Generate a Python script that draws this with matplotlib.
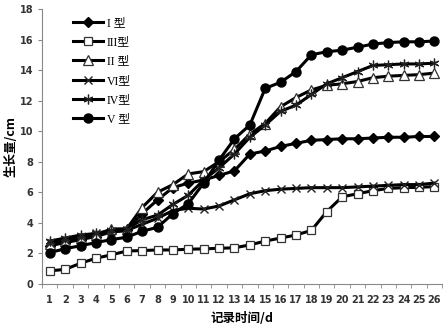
import matplotlib
matplotlib.use('Agg')
import matplotlib.pyplot as plt
import numpy as np

days = np.arange(1, 27)

type1 = [2.5, 2.7, 2.9, 3.1, 3.4, 3.5, 4.6, 5.5, 6.3, 6.6, 6.8, 7.1, 7.4, 8.5,
         8.7, 9.0, 9.2, 9.4, 9.45, 9.5, 9.5, 9.55, 9.6, 9.6, 9.65, 9.65]
type3 = [0.85, 0.95, 1.35, 1.68, 1.9, 2.15, 2.18, 2.22, 2.22, 2.27, 2.29, 2.33, 2.36,
         2.55, 2.8, 3.0, 3.2, 3.5, 4.73, 5.7, 5.9, 6.1, 6.25, 6.3, 6.32, 6.37]
type2 = [2.6, 2.8, 3.0, 3.2, 3.6, 3.6, 5.0, 6.0, 6.5, 7.2, 7.35, 8.0, 8.8, 9.8,
         10.5, 11.6, 12.2, 12.7, 13.0, 13.1, 13.25, 13.5, 13.6, 13.65, 13.7, 13.8]
type6 = [2.7, 2.9, 3.1, 3.3, 3.4, 3.5, 3.9, 4.3, 4.8, 4.95, 4.9, 5.1, 5.5, 5.9,
         6.1, 6.2, 6.25, 6.3, 6.3, 6.3, 6.35, 6.4, 6.45, 6.5, 6.5, 6.6]
type4 = [2.8, 3.0, 3.2, 3.3, 3.5, 3.6, 4.2, 4.5, 5.2, 5.8, 6.8, 7.6, 8.5, 9.6,
         10.4, 11.3, 11.7, 12.4, 13.1, 13.5, 13.9, 14.3, 14.35, 14.4, 14.4, 14.45]
type5 = [2.05, 2.3, 2.5, 2.7, 2.9, 3.05, 3.45, 3.7, 4.6, 5.25, 6.6, 8.1, 9.5, 10.4,
         12.8, 13.2, 13.9, 15.0, 15.2, 15.3, 15.5, 15.7, 15.8, 15.85, 15.85, 15.9]

labels = ['I 型', 'III型', 'II 型', 'VI型', 'IV型', 'V 型']
series = [type1, type3, type2, type6, type4, type5]
styles = [
    dict(marker='D', ms=5, mfc='black', mec='black'),
    dict(marker='s', ms=6, mfc='white', mec='#333333', mew=0.9),
    dict(marker='^', ms=6.5, mfc='white', mec='#333333', mew=0.9),
    dict(marker='x', ms=6, mfc='black', mec='#222222', mew=1.0),
    dict(marker=(6, 2, 0), ms=7, mfc='black', mec='#222222', mew=0.9),
    dict(marker='o', ms=6.5, mfc='black', mec='black'),
]

fig = plt.figure(figsize=(4.48, 3.32), dpi=100)
ax = fig.add_axes([0.094, 0.145, 0.893, 0.828])

for y, lab, st in zip(series, labels, styles):
    ax.plot(days, y, color='black', lw=2.2, label=lab, **st)

ax.set_xlim(0.5, 26.5)
ax.set_ylim(0, 18)
ax.set_yticks(np.arange(0, 19, 2))
ax.set_xticks(days)
ax.set_xticks(np.arange(0.5, 27, 1), minor=True)
ax.tick_params(axis='x', which='major', length=0, pad=8)
ax.tick_params(axis='x', which='minor', length=3, color='#888888')
ax.tick_params(axis='y', length=3, color='#888888')
for lab in ax.get_xticklabels() + ax.get_yticklabels():
    lab.set_fontsize(7)
    lab.set_fontweight('bold')
    lab.set_color('#333333')

for s in ['top', 'right']:
    ax.spines[s].set_visible(False)
for s in ['left', 'bottom']:
    ax.spines[s].set_color('#888888')
    ax.spines[s].set_linewidth(0.8)

ax.set_xlabel('记录时间/d', family=['Noto Sans CJK SC', 'DejaVu Sans'],
              fontsize=9, fontweight='bold', labelpad=5)
ax.set_ylabel('生长量/cm', family=['Noto Sans CJK SC', 'DejaVu Sans'],
              fontsize=9, fontweight='bold')
ax.yaxis.set_label_coords(-0.06, 0.5)

leg = ax.legend(loc='upper left', bbox_to_anchor=(0.05, 1.01), frameon=False,
                handlelength=2.6, handletextpad=0.3, labelspacing=0.62,
                prop={'family': ['Liberation Serif', 'Noto Sans CJK SC'], 'size': 8.5})

fig.savefig('out.png', dpi=100)
